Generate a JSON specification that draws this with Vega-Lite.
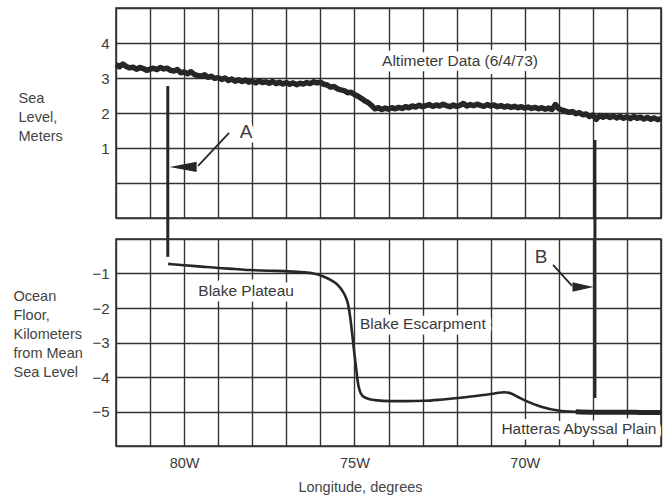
{
  "$schema": "https://vega.github.io/schema/vega-lite/v6.json",
  "background": "white",
  "padding": {"left": 12, "top": 0, "right": 5, "bottom": 2},
  "config": {
    "font": "Liberation Sans",
    "view": {"stroke": "#2e2e2e", "strokeWidth": 1.6},
    "axis": {
      "domain": false,
      "ticks": false,
      "gridColor": "#333333",
      "gridOpacity": 1,
      "gridWidth": 1.4,
      "labelFont": "Liberation Sans",
      "labelFontSize": 15,
      "labelColor": "#3a3a3a",
      "labelOverlap": false,
      "labelFlush": false,
      "titleFont": "Liberation Sans",
      "titleFontSize": 14.5,
      "titleFontWeight": "normal",
      "titleColor": "#444444"
    },
    "text": {"font": "Liberation Sans", "fontSize": 15.5, "fill": "#3a3a3a"}
  },
  "datasets": {
    "altimeter": [
      {"lon": -82.0, "m": 3.38}, {"lon": -81.9, "m": 3.32}, {"lon": -81.8, "m": 3.40}, {"lon": -81.7, "m": 3.33},
      {"lon": -81.6, "m": 3.29}, {"lon": -81.5, "m": 3.31}, {"lon": -81.4, "m": 3.25}, {"lon": -81.3, "m": 3.30},
      {"lon": -81.2, "m": 3.27}, {"lon": -81.1, "m": 3.22}, {"lon": -81.0, "m": 3.25}, {"lon": -80.9, "m": 3.28},
      {"lon": -80.8, "m": 3.24}, {"lon": -80.7, "m": 3.30}, {"lon": -80.6, "m": 3.26}, {"lon": -80.5, "m": 3.28},
      {"lon": -80.4, "m": 3.22}, {"lon": -80.3, "m": 3.20}, {"lon": -80.2, "m": 3.24}, {"lon": -80.1, "m": 3.15},
      {"lon": -80.0, "m": 3.17}, {"lon": -79.9, "m": 3.12}, {"lon": -79.8, "m": 3.18}, {"lon": -79.7, "m": 3.10},
      {"lon": -79.6, "m": 3.07}, {"lon": -79.5, "m": 3.05}, {"lon": -79.4, "m": 3.09}, {"lon": -79.3, "m": 3.02},
      {"lon": -79.2, "m": 3.05}, {"lon": -79.1, "m": 2.99}, {"lon": -79.0, "m": 3.01}, {"lon": -78.9, "m": 2.96},
      {"lon": -78.8, "m": 3.00}, {"lon": -78.7, "m": 2.93}, {"lon": -78.6, "m": 2.97}, {"lon": -78.5, "m": 2.91},
      {"lon": -78.4, "m": 2.95}, {"lon": -78.3, "m": 2.90}, {"lon": -78.2, "m": 2.94}, {"lon": -78.1, "m": 2.88},
      {"lon": -78.0, "m": 2.91}, {"lon": -77.9, "m": 2.86}, {"lon": -77.8, "m": 2.92}, {"lon": -77.7, "m": 2.87},
      {"lon": -77.6, "m": 2.89}, {"lon": -77.5, "m": 2.85}, {"lon": -77.4, "m": 2.90}, {"lon": -77.3, "m": 2.84},
      {"lon": -77.2, "m": 2.88}, {"lon": -77.1, "m": 2.83}, {"lon": -77.0, "m": 2.87}, {"lon": -76.9, "m": 2.82},
      {"lon": -76.8, "m": 2.86}, {"lon": -76.7, "m": 2.81}, {"lon": -76.6, "m": 2.85}, {"lon": -76.5, "m": 2.83},
      {"lon": -76.4, "m": 2.87}, {"lon": -76.3, "m": 2.84}, {"lon": -76.2, "m": 2.89}, {"lon": -76.1, "m": 2.86},
      {"lon": -76.0, "m": 2.88}, {"lon": -75.9, "m": 2.82}, {"lon": -75.8, "m": 2.80}, {"lon": -75.7, "m": 2.74},
      {"lon": -75.6, "m": 2.76}, {"lon": -75.5, "m": 2.69}, {"lon": -75.4, "m": 2.66}, {"lon": -75.3, "m": 2.64},
      {"lon": -75.2, "m": 2.58}, {"lon": -75.1, "m": 2.59}, {"lon": -75.0, "m": 2.53}, {"lon": -74.9, "m": 2.48},
      {"lon": -74.8, "m": 2.42}, {"lon": -74.7, "m": 2.35}, {"lon": -74.6, "m": 2.30}, {"lon": -74.5, "m": 2.22},
      {"lon": -74.4, "m": 2.12}, {"lon": -74.3, "m": 2.15}, {"lon": -74.2, "m": 2.10}, {"lon": -74.1, "m": 2.14},
      {"lon": -74.0, "m": 2.11}, {"lon": -73.9, "m": 2.15}, {"lon": -73.8, "m": 2.12}, {"lon": -73.7, "m": 2.16},
      {"lon": -73.6, "m": 2.13}, {"lon": -73.5, "m": 2.18}, {"lon": -73.4, "m": 2.15}, {"lon": -73.3, "m": 2.20},
      {"lon": -73.2, "m": 2.17}, {"lon": -73.1, "m": 2.22}, {"lon": -73.0, "m": 2.18}, {"lon": -72.9, "m": 2.21},
      {"lon": -72.8, "m": 2.24}, {"lon": -72.7, "m": 2.19}, {"lon": -72.6, "m": 2.23}, {"lon": -72.5, "m": 2.20},
      {"lon": -72.4, "m": 2.25}, {"lon": -72.3, "m": 2.21}, {"lon": -72.2, "m": 2.18}, {"lon": -72.1, "m": 2.23},
      {"lon": -72.0, "m": 2.19}, {"lon": -71.9, "m": 2.22}, {"lon": -71.8, "m": 2.27}, {"lon": -71.7, "m": 2.20},
      {"lon": -71.6, "m": 2.24}, {"lon": -71.5, "m": 2.21}, {"lon": -71.4, "m": 2.25}, {"lon": -71.3, "m": 2.22},
      {"lon": -71.2, "m": 2.19}, {"lon": -71.1, "m": 2.24}, {"lon": -71.0, "m": 2.20}, {"lon": -70.9, "m": 2.23},
      {"lon": -70.8, "m": 2.18}, {"lon": -70.7, "m": 2.21}, {"lon": -70.6, "m": 2.17}, {"lon": -70.5, "m": 2.20},
      {"lon": -70.4, "m": 2.16}, {"lon": -70.3, "m": 2.19}, {"lon": -70.2, "m": 2.15}, {"lon": -70.1, "m": 2.18},
      {"lon": -70.0, "m": 2.14}, {"lon": -69.9, "m": 2.17}, {"lon": -69.8, "m": 2.13}, {"lon": -69.7, "m": 2.16},
      {"lon": -69.6, "m": 2.12}, {"lon": -69.5, "m": 2.15}, {"lon": -69.4, "m": 2.11}, {"lon": -69.3, "m": 2.14},
      {"lon": -69.2, "m": 2.10}, {"lon": -69.1, "m": 2.24}, {"lon": -69.0, "m": 2.12}, {"lon": -68.9, "m": 2.08},
      {"lon": -68.8, "m": 2.05}, {"lon": -68.7, "m": 2.02}, {"lon": -68.6, "m": 2.04}, {"lon": -68.5, "m": 1.98},
      {"lon": -68.4, "m": 2.01}, {"lon": -68.3, "m": 1.95}, {"lon": -68.2, "m": 1.97}, {"lon": -68.1, "m": 1.90},
      {"lon": -68.0, "m": 1.94}, {"lon": -67.9, "m": 1.82}, {"lon": -67.8, "m": 1.93}, {"lon": -67.7, "m": 1.88},
      {"lon": -67.6, "m": 1.92}, {"lon": -67.5, "m": 1.87}, {"lon": -67.4, "m": 1.91}, {"lon": -67.3, "m": 1.86},
      {"lon": -67.2, "m": 1.90}, {"lon": -67.1, "m": 1.85}, {"lon": -67.0, "m": 1.89}, {"lon": -66.9, "m": 1.84},
      {"lon": -66.8, "m": 1.90}, {"lon": -66.7, "m": 1.85}, {"lon": -66.6, "m": 1.88}, {"lon": -66.5, "m": 1.83},
      {"lon": -66.4, "m": 1.87}, {"lon": -66.3, "m": 1.82}, {"lon": -66.2, "m": 1.86}, {"lon": -66.1, "m": 1.81},
      {"lon": -66.0, "m": 1.84}
    ],
    "floor": [
      {"lon": -80.47, "km": -0.72}, {"lon": -80.0, "km": -0.76}, {"lon": -79.5, "km": -0.80}, {"lon": -79.0, "km": -0.84},
      {"lon": -78.5, "km": -0.87}, {"lon": -78.04, "km": -0.90}, {"lon": -77.5, "km": -0.92}, {"lon": -77.07, "km": -0.93},
      {"lon": -76.57, "km": -0.96}, {"lon": -76.2, "km": -1.0}, {"lon": -75.95, "km": -1.07}, {"lon": -75.69, "km": -1.19},
      {"lon": -75.5, "km": -1.32}, {"lon": -75.39, "km": -1.45}, {"lon": -75.27, "km": -1.65}, {"lon": -75.19, "km": -1.88},
      {"lon": -75.12, "km": -2.3}, {"lon": -75.06, "km": -2.8}, {"lon": -75.01, "km": -3.25}, {"lon": -74.95, "km": -3.75},
      {"lon": -74.9, "km": -4.15}, {"lon": -74.85, "km": -4.38}, {"lon": -74.76, "km": -4.55}, {"lon": -74.6, "km": -4.63},
      {"lon": -74.4, "km": -4.67}, {"lon": -73.93, "km": -4.70}, {"lon": -73.5, "km": -4.70}, {"lon": -72.96, "km": -4.69},
      {"lon": -72.5, "km": -4.66}, {"lon": -71.96, "km": -4.61}, {"lon": -71.5, "km": -4.56}, {"lon": -71.2, "km": -4.52},
      {"lon": -70.85, "km": -4.47}, {"lon": -70.61, "km": -4.44}, {"lon": -70.45, "km": -4.46}, {"lon": -70.2, "km": -4.58},
      {"lon": -69.9, "km": -4.72}, {"lon": -69.52, "km": -4.86}, {"lon": -69.02, "km": -4.97}, {"lon": -68.5, "km": -5.01},
      {"lon": -68.05, "km": -5.02}, {"lon": -67.5, "km": -5.02}, {"lon": -67.0, "km": -5.02}, {"lon": -66.5, "km": -5.03},
      {"lon": -66.0, "km": -5.03}
    ],
    "markers": [
      {"label": "A", "lon": -80.48, "m_top": 2.77, "m_bottom": -2.11},
      {"label": "B", "lon": -67.94, "m_top": 1.23, "m_bottom": -6.14}
    ],
    "arrowA": [{"lon": -78.68, "m": 1.43}, {"lon": -79.59, "m": 0.49}],
    "arrowheadA": [{"lon": -80.03, "m": 0.46}],
    "arrowB": [{"lon": -69.17, "km": -0.75}, {"lon": -68.61, "km": -1.36}],
    "arrowheadB": [{"lon": -68.29, "km": -1.39}],
    "topLabels": [{"label": "Altimeter Data (6/4/73)", "lon": -71.9, "m": 3.49}],
    "topLetters": [{"label": "A", "lon": -78.18, "m": 1.46}],
    "floorLabels": [
      {"label": "Blake Plateau", "lon": -78.18, "km": -1.51},
      {"label": "Blake Escarpment", "lon": -72.99, "km": -2.47},
      {"label": "Hatteras Abyssal Plain", "lon": -68.41, "km": -5.52}
    ],
    "floorLetters": [{"label": "B", "lon": -69.52, "km": -0.52}]
  },
  "vconcat": [
    {
      "width": 545,
      "height": 210,
      "layer": [
        {
          "data": {"name": "topLabels"},
          "mark": {"type": "text", "fill": "white", "stroke": "white", "strokeWidth": 11, "strokeJoin": "round"},
          "encoding": {
            "x": {"field": "lon", "type": "quantitative", "scale": {"domain": [-82, -66], "nice": false, "zero": false},
                  "axis": {"values": [-82,-81,-80,-79,-78,-77,-76,-75,-74,-73,-72,-71,-70,-69,-68,-67,-66], "tickCount": 17, "labels": false, "title": null}},
            "y": {"field": "m", "type": "quantitative", "scale": {"domain": [-1, 5], "nice": false, "zero": false},
                  "axis": {"values": [-1,0,1,2,3,4,5], "tickCount": 7, "labelExpr": "datum.value >= 1 && datum.value <= 4 ? datum.label : ''",
                           "labelPadding": 7, "title": ["Sea", "Level,", "Meters"], "titleAngle": 0, "titleAlign": "left",
                           "titleBaseline": "alphabetic", "titleX": -98, "titleY": 94, "titleLineHeight": 19}},
            "text": {"field": "label"}
          }
        },
        {
          "data": {"name": "topLetters"},
          "mark": {"type": "text", "fontSize": 19, "fill": "white", "stroke": "white", "strokeWidth": 9, "strokeJoin": "round"},
          "encoding": {
            "x": {"field": "lon", "type": "quantitative", "scale": {"domain": [-82, -66], "nice": false, "zero": false}},
            "y": {"field": "m", "type": "quantitative", "scale": {"domain": [-1, 5], "nice": false, "zero": false}},
            "text": {"field": "label"}
          }
        },
        {
          "data": {"name": "altimeter"},
          "mark": {"type": "line", "color": "#262626", "strokeWidth": 5.5, "strokeJoin": "round"},
          "encoding": {
            "x": {"field": "lon", "type": "quantitative", "scale": {"domain": [-82, -66], "nice": false, "zero": false}},
            "y": {"field": "m", "type": "quantitative", "scale": {"domain": [-1, 5], "nice": false, "zero": false}}
          }
        },
        {
          "data": {"name": "markers"},
          "mark": {"type": "rule", "color": "#262626", "strokeWidth": 3},
          "encoding": {
            "x": {"field": "lon", "type": "quantitative", "scale": {"domain": [-82, -66], "nice": false, "zero": false}},
            "y": {"field": "m_top", "type": "quantitative", "scale": {"domain": [-1, 5], "nice": false, "zero": false}},
            "y2": {"field": "m_bottom"}
          }
        },
        {
          "data": {"name": "arrowA"},
          "mark": {"type": "line", "color": "#262626", "strokeWidth": 1.8},
          "encoding": {
            "x": {"field": "lon", "type": "quantitative", "scale": {"domain": [-82, -66], "nice": false, "zero": false}},
            "y": {"field": "m", "type": "quantitative", "scale": {"domain": [-1, 5], "nice": false, "zero": false}}
          }
        },
        {
          "data": {"name": "arrowheadA"},
          "mark": {"type": "point", "shape": "M-1,0L1,-0.38L1,0.38Z", "size": 729, "filled": true, "color": "#262626", "opacity": 1},
          "encoding": {
            "x": {"field": "lon", "type": "quantitative", "scale": {"domain": [-82, -66], "nice": false, "zero": false}},
            "y": {"field": "m", "type": "quantitative", "scale": {"domain": [-1, 5], "nice": false, "zero": false}}
          }
        },
        {
          "data": {"name": "topLabels"},
          "mark": {"type": "text"},
          "encoding": {
            "x": {"field": "lon", "type": "quantitative", "scale": {"domain": [-82, -66], "nice": false, "zero": false}},
            "y": {"field": "m", "type": "quantitative", "scale": {"domain": [-1, 5], "nice": false, "zero": false}},
            "text": {"field": "label"}
          }
        },
        {
          "data": {"name": "topLetters"},
          "mark": {"type": "text", "fontSize": 19},
          "encoding": {
            "x": {"field": "lon", "type": "quantitative", "scale": {"domain": [-82, -66], "nice": false, "zero": false}},
            "y": {"field": "m", "type": "quantitative", "scale": {"domain": [-1, 5], "nice": false, "zero": false}},
            "text": {"field": "label"}
          }
        }
      ]
    },
    {
      "width": 545,
      "height": 207,
      "layer": [
        {
          "data": {"name": "floorLabels"},
          "mark": {"type": "text", "fill": "white", "stroke": "white", "strokeWidth": 11, "strokeJoin": "round"},
          "encoding": {
            "x": {"field": "lon", "type": "quantitative", "scale": {"domain": [-82, -66], "nice": false, "zero": false},
                  "axis": {"values": [-82,-81,-80,-79,-78,-77,-76,-75,-74,-73,-72,-71,-70,-69,-68,-67,-66], "tickCount": 17,
                           "labelExpr": "datum.value % 5 == 0 ? abs(datum.value) + 'W' : ''",
                           "labelPadding": 10, "labelFontSize": 14.5,
                           "title": "Longitude, degrees", "titleX": 244, "titleY": 41,
                           "titleBaseline": "middle", "titleAlign": "center"}},
            "y": {"field": "km", "type": "quantitative", "scale": {"domain": [-6, 0], "nice": false, "zero": false},
                  "axis": {"values": [-6,-5,-4,-3,-2,-1,0], "tickCount": 7, "labelExpr": "datum.value <= -1 && datum.value >= -5 ? datum.label : ''",
                           "labelPadding": 7,
                           "title": ["Ocean", "Floor,", "Kilometers", "from Mean", "Sea Level"], "titleAngle": 0, "titleAlign": "left",
                           "titleBaseline": "alphabetic", "titleX": -103, "titleY": 61, "titleLineHeight": 19}},
            "text": {"field": "label"}
          }
        },
        {
          "data": {"name": "floorLetters"},
          "mark": {"type": "text", "fontSize": 19, "fill": "white", "stroke": "white", "strokeWidth": 9, "strokeJoin": "round"},
          "encoding": {
            "x": {"field": "lon", "type": "quantitative", "scale": {"domain": [-82, -66], "nice": false, "zero": false}},
            "y": {"field": "km", "type": "quantitative", "scale": {"domain": [-6, 0], "nice": false, "zero": false}},
            "text": {"field": "label"}
          }
        },
        {
          "data": {"name": "floor"},
          "mark": {"type": "line", "color": "#262626", "strokeWidth": 2.6, "interpolate": "monotone"},
          "encoding": {
            "x": {"field": "lon", "type": "quantitative", "scale": {"domain": [-82, -66], "nice": false, "zero": false}},
            "y": {"field": "km", "type": "quantitative", "scale": {"domain": [-6, 0], "nice": false, "zero": false}}
          }
        },
        {
          "data": {"name": "floor"},
          "transform": [{"filter": "datum.lon >= -69.0"}],
          "mark": {"type": "line", "color": "#262626", "strokeWidth": 5, "interpolate": "monotone"},
          "encoding": {
            "x": {"field": "lon", "type": "quantitative", "scale": {"domain": [-82, -66], "nice": false, "zero": false}},
            "y": {"field": "km", "type": "quantitative", "scale": {"domain": [-6, 0], "nice": false, "zero": false}}
          }
        },
        {
          "data": {"name": "arrowB"},
          "mark": {"type": "line", "color": "#262626", "strokeWidth": 1.8},
          "encoding": {
            "x": {"field": "lon", "type": "quantitative", "scale": {"domain": [-82, -66], "nice": false, "zero": false}},
            "y": {"field": "km", "type": "quantitative", "scale": {"domain": [-6, 0], "nice": false, "zero": false}}
          }
        },
        {
          "data": {"name": "arrowheadB"},
          "mark": {"type": "point", "shape": "M1,0L-1,-0.45L-1,0.45Z", "size": 441, "filled": true, "color": "#262626", "opacity": 1},
          "encoding": {
            "x": {"field": "lon", "type": "quantitative", "scale": {"domain": [-82, -66], "nice": false, "zero": false}},
            "y": {"field": "km", "type": "quantitative", "scale": {"domain": [-6, 0], "nice": false, "zero": false}}
          }
        },
        {
          "data": {"name": "floorLabels"},
          "mark": {"type": "text"},
          "encoding": {
            "x": {"field": "lon", "type": "quantitative", "scale": {"domain": [-82, -66], "nice": false, "zero": false}},
            "y": {"field": "km", "type": "quantitative", "scale": {"domain": [-6, 0], "nice": false, "zero": false}},
            "text": {"field": "label"}
          }
        },
        {
          "data": {"name": "floorLetters"},
          "mark": {"type": "text", "fontSize": 19},
          "encoding": {
            "x": {"field": "lon", "type": "quantitative", "scale": {"domain": [-82, -66], "nice": false, "zero": false}},
            "y": {"field": "km", "type": "quantitative", "scale": {"domain": [-6, 0], "nice": false, "zero": false}},
            "text": {"field": "label"}
          }
        }
      ]
    }
  ],
  "spacing": 21,
  "bounds": "flush",
  "resolve": {"scale": {"x": "independent"}}
}
